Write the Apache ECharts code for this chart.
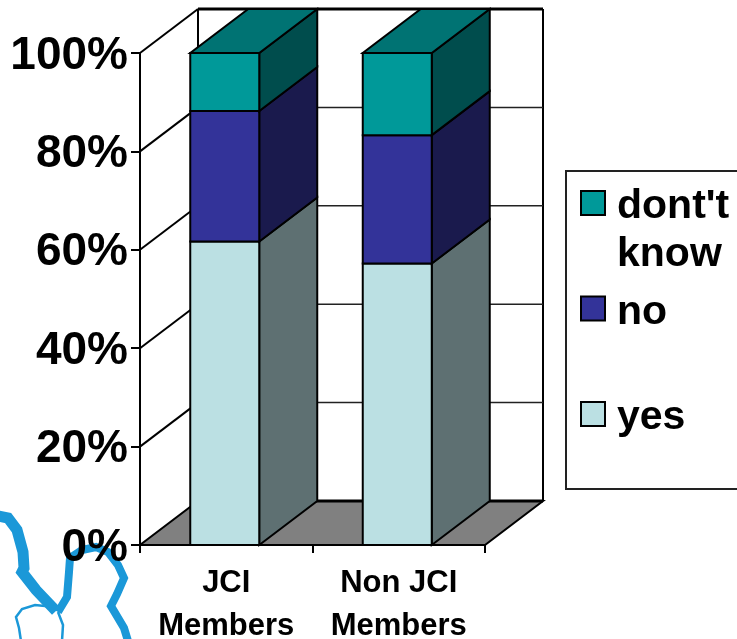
<!DOCTYPE html>
<html>
<head>
<meta charset="utf-8">
<style>html,body{margin:0;padding:0;background:#fff}#c{width:737px;height:639px}</style>
<script src="https://cdn.jsdelivr.net/npm/echarts@6/dist/echarts.min.js"></script>
</head>
<body>
<div id="c"></div>
<script>
const categories = ['JCI\nMembers', 'Non JCI\nMembers'];
const yes = [61.7, 57.2];
const no = [26.5, 26.1];
const dontKnow = [11.8, 16.7];
const yTicks = [0, 20, 40, 60, 80, 100];

const FONT = '"Liberation Sans", Arial, sans-serif';
const DX = 58, DY = -44;
const BAR_SHIFT = -1.5;

function poly(points, fill, stroke, lw) {
  return { type: 'polygon', shape: { points }, style: { fill, stroke: stroke || '#000', lineWidth: lw || 2, lineJoin: 'miter' } };
}
function line(p, q, lw, color) {
  return { type: 'line', shape: { x1: p[0], y1: p[1], x2: q[0], y2: q[1] }, style: { stroke: color || '#000', lineWidth: lw || 2 } };
}

function wallItem(params, api) {
  const v = api.value(0);
  const a = api.coord([0, v]);
  const band = api.size([1, 0])[0];
  const x0 = a[0] - band / 2;
  const x1 = x0 + band * categories.length;
  const y = a[1];
  const children = [];
  if (v === 0) {
    children.push(poly([[x0, y], [x1, y], [x1 + DX, y + DY], [x0 + DX, y + DY]], '#808080', '#000', 2));
    const top = api.coord([0, 100])[1];
    children.push(line([x0 + DX, y + DY], [x0 + DX, top + DY], 2));
    children.push(line([x1 + DX, y + DY], [x1 + DX, top + DY], 2));
    children.push(line([x0 + DX, y + DY], [x1 + DX, y + DY], 3));
  } else {
    children.push(line([x0, y], [x0 + DX, y + DY], 2));
    children.push(line([x0 + DX, y + DY], [x1 + DX, y + DY], v === 100 ? 3 : 1.5, v === 100 ? '#000' : '#222'));
  }
  return { type: 'group', children };
}

function boxSeries(name, values, bases, front, topFace, side, isTop) {
  return {
    name, type: 'custom', z: 5, clip: false,
    itemStyle: { color: front },
    encode: { x: 0, y: 2 },
    data: values.map((v, i) => [i, bases[i], bases[i] + v]),
    renderItem(params, api) {
      const lo = api.coord([api.value(0), api.value(1)]);
      const hi = api.coord([api.value(0), api.value(2)]);
      const band = api.size([1, 0])[0];
      const w = band * 0.4;
      const l = lo[0] - w / 2 + BAR_SHIFT, r = l + w;
      const children = [
        poly([[r, lo[1]], [r + DX, lo[1] + DY], [r + DX, hi[1] + DY], [r, hi[1]]], side),
        poly([[l, lo[1]], [r, lo[1]], [r, hi[1]], [l, hi[1]]], front)
      ];
      if (isTop) children.push(poly([[l, hi[1]], [r, hi[1]], [r + DX, hi[1] + DY], [l + DX, hi[1] + DY]], topFace));
      return { type: 'group', children };
    }
  };
}

const baseNo = yes.slice();
const baseDk = yes.map((v, i) => v + no[i]);
const logoBlue = '#1b98d8';

const option = {
  animation: false,
  textStyle: { fontFamily: FONT },
  grid: { left: 140, right: 252, top: 53, bottom: 94, outerBoundsMode: 'none' },
  xAxis: {
    type: 'category', data: categories,
    axisLine: { show: true, lineStyle: { color: '#000', width: 2 } },
    axisTick: { show: true, length: 8, lineStyle: { color: '#000', width: 2 } },
    axisLabel: { interval: 0, margin: 17, color: '#000', fontSize: 31, fontWeight: 'bold', lineHeight: 43, fontFamily: FONT, hideOverlap: false },
    splitLine: { show: false }
  },
  yAxis: {
    type: 'value', min: 0, max: 100, interval: 20,
    axisLine: { show: true, lineStyle: { color: '#000', width: 2 } },
    axisTick: { show: true, length: 9, lineStyle: { color: '#000', width: 2 } },
    axisLabel: {
      formatter: v => '{s|\u00a0}\n{v|' + v + '%}', margin: 12, color: '#000', fontFamily: FONT,
      rich: {
        s: { fontSize: 2, lineHeight: 6 },
        v: { fontSize: 46, fontWeight: 'bold', lineHeight: 50, fontFamily: FONT, color: '#000' }
      }
    },
    splitLine: { show: false }
  },
  legend: {
    orient: 'vertical', left: 580, top: 154, padding: 0, itemGap: -16,
    icon: 'rect', itemWidth: 24, itemHeight: 24, selectedMode: false,
    itemStyle: { borderColor: '#000', borderWidth: 2 },
    data: ["dont't know", 'no', 'yes'],
    formatter(name) {
      return name === "dont't know"
        ? "{s|\u00a0}\n{t|dont't}\n{t|know}"
        : '{s|\u00a0}\n{t|' + name + '}\n{t|\u00a0}';
    },
    textStyle: {
      color: '#000', fontFamily: FONT, padding: [0, 0, 0, 7],
      rich: {
        s: { fontSize: 2, lineHeight: 56 },
        t: { fontSize: 41, fontWeight: 'bold', lineHeight: 48, fontFamily: FONT, color: '#000' }
      }
    }
  },
  graphic: [
    { type: 'rect', z: 1, shape: { x: 566, y: 171, width: 200, height: 318 }, style: { fill: '#fff', stroke: '#222', lineWidth: 2 } },
    { type: 'polyline', z: 0, shape: { points: [[-2, 516], [8, 518], [17, 530], [23, 552], [24, 568], [22, 572], [36, 590], [56, 611]] }, style: { stroke: logoBlue, lineWidth: 11, fill: null } },
    { type: 'polyline', z: 0, shape: { points: [[58, 612], [67, 597], [69, 572], [70, 558], [82, 550], [96, 547], [108, 552], [118, 565], [124, 578], [117, 594], [111, 606], [124, 628], [128, 641]] }, style: { stroke: logoBlue, lineWidth: 8, fill: null } },
    { type: 'polyline', z: 0, shape: { points: [[55, 607], [35, 605], [22, 609], [16, 617], [19, 628], [21, 641]] }, style: { stroke: logoBlue, lineWidth: 2.5, fill: null } },
    { type: 'polyline', z: 0, shape: { points: [[58, 612], [63, 625], [62, 641]] }, style: { stroke: logoBlue, lineWidth: 2.5, fill: null } }
  ],
  series: [
    { name: 'walls', type: 'custom', z: 3, clip: false, silent: true, encode: { y: 0 }, data: yTicks.map(t => [t]), renderItem: wallItem },
    boxSeries('yes', yes, yes.map(() => 0), '#bbe0e3', '#8ca8aa', '#5e7072', false),
    boxSeries('no', no, baseNo, '#333399', '#262673', '#1a1a4d', false),
    boxSeries("dont't know", dontKnow, baseDk, '#009999', '#007373', '#004d4d', true)
  ]
};
const chart = echarts.init(document.getElementById('c'), null, { renderer: 'canvas' });
chart.setOption(option);
</script>
</body>
</html>
